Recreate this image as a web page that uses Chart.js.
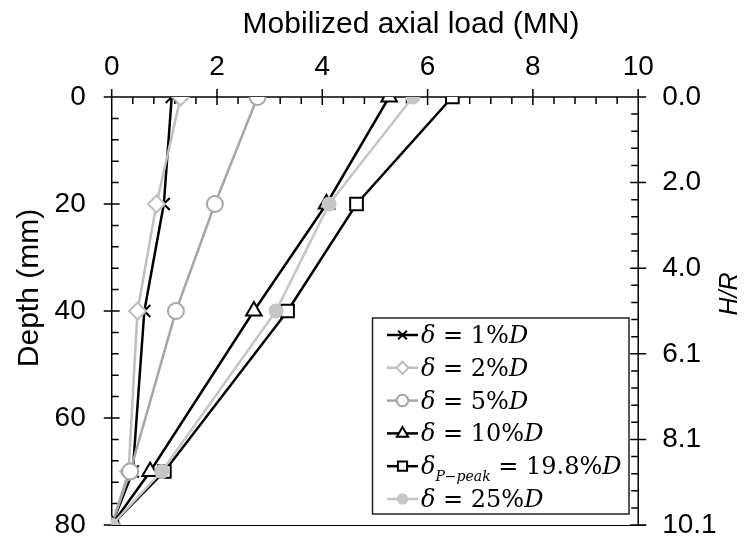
<!DOCTYPE html>
<html>
<head>
<meta charset="utf-8">
<script src="https://cdn.jsdelivr.net/npm/chart.js@4.4.1/dist/chart.umd.min.js"></script>
<style>
  html, body { margin: 0; padding: 0; background: #fff; }
  #wrap { width: 745px; height: 542px; position: relative; }
</style>
</head>
<body>
<div id="wrap"><canvas id="loadChart"></canvas></div>
<script>
// Mobilized axial load (MN) along the pile, one list per displacement level
const depths   = [0, 20, 40, 70, 80];
const load1    = [1.14, 0.99, 0.62, 0.40, 0];
const load2    = [1.31, 0.85, 0.49, 0.32, 0];
const load5    = [2.77, 1.96, 1.22, 0.35, 0];
const load10   = [5.27, 4.08, 2.70, 0.73, 0];
const loadPeak = [6.47, 4.65, 3.34, 1.00, 0];
const load25   = [5.72, 4.13, 3.12, 0.95, 0];

const seriesLabels = ['δ = 1%D', 'δ = 2%D', 'δ = 5%D', 'δ = 10%D', 'δ_{P−peak} = 19.8%D', 'δ = 25%D'];

const loadTicks    = [0, 2, 4, 6, 8, 10];
const depthTicks   = [0, 20, 40, 60, 80];
const hrTickDepths = [0, 16, 32, 48, 64, 80];
const hrTickLabels = ['0.0', '2.0', '4.0', '6.1', '8.1', '10.1'];

const SANS  = "'Liberation Sans', Arial, sans-serif";
const SERIF = "'DejaVu Serif', serif";

const LIGHT = '#bfbfbf';
const MID   = '#a6a6a6';
const DOT   = '#c6c6c6';

// marker look per series: colour, point style, radius, fill
const looks = [
  { color: '#000', style: 'crossRot', r: 8.5, fill: '#000' },
  { color: LIGHT,  style: 'rectRot',  r: 8.5, fill: '#fff' },
  { color: MID,    style: 'circle',   r: 8,   fill: '#fff' },
  { color: '#000', style: 'triangle', r: 9,   fill: '#fff' },
  { color: '#000', style: 'rect',     r: 9,   fill: '#fff' },
  { color: DOT,    style: 'circle',   r: 6.5, fill: DOT },
];

const allLoads = [load1, load2, load5, load10, loadPeak, load25];

const datasets = allLoads.map((loads, i) => ({
  label: seriesLabels[i],
  data: loads.map((v, k) => ({ x: v, y: depths[k] })),
  showLine: true,
  borderColor: looks[i].color,
  borderWidth: 2.5,
  pointStyle: looks[i].style,
  pointRadius: looks[i].r,
  pointBorderWidth: 2,
  pointBorderColor: looks[i].color,
  pointBackgroundColor: looks[i].fill,
  order: allLoads.length - i,
  yAxisID: 'y',
}));

// rich text: letters in italic, the rest upright, _{..} as subscript
function drawRich(ctx, text, x, y, size) {
  const subSize = Math.round(size * 0.6);
  let i = 0;
  let cx = x;
  const put = (ch, sz, dy) => {
    const it = /\p{L}/u.test(ch);
    ctx.font = (it ? 'italic ' : '') + sz + 'px ' + SERIF;
    ctx.fillText(ch, cx, y + dy);
    cx += ctx.measureText(ch).width;
  };
  while (i < text.length) {
    if (text.startsWith('_{', i)) {
      const j = text.indexOf('}', i);
      for (const ch of text.slice(i + 2, j)) put(ch, subSize, size * 0.28);
      i = j + 1;
    } else {
      put(text[i], size, 0);
      i++;
    }
  }
}

const frame = {
  id: 'frame',
  beforeDatasetsDraw(chart) {
    const { ctx, chartArea: a, scales } = chart;
    const sx = scales.x, sy = scales.y, sr = scales.y2;
    ctx.save();
    ctx.strokeStyle = '#000';
    ctx.lineWidth = 1.5;
    ctx.beginPath();
    ctx.moveTo(a.left, a.top); ctx.lineTo(a.right, a.top);
    ctx.moveTo(a.left, a.top); ctx.lineTo(a.left, a.bottom);
    ctx.moveTo(a.right, a.top); ctx.lineTo(a.right, a.bottom);
    // top axis: majors cross, minors point in
    for (let v = 0; v <= 10.001; v += 0.4) {
      const px = sx.getPixelForValue(v);
      const major = loadTicks.some(t => Math.abs(t - v) < 1e-6);
      ctx.moveTo(px, a.top - (major ? 8 : 0));
      ctx.lineTo(px, a.top + (major ? 8 : 7));
    }
    // left axis
    for (let v = 0; v <= 80.001; v += 4) {
      const py = sy.getPixelForValue(v);
      const major = depthTicks.some(t => Math.abs(t - v) < 1e-6);
      ctx.moveTo(a.left - (major ? 8 : 0), py);
      ctx.lineTo(a.left + (major ? 8 : 7), py);
    }
    // right axis
    for (let v = 0; v <= 80.001; v += 3.2) {
      const py = sr.getPixelForValue(v);
      const major = hrTickDepths.some(t => Math.abs(t - v) < 1e-6);
      ctx.moveTo(a.right + (major ? 8 : 0), py);
      ctx.lineTo(a.right - (major ? 8 : 7), py);
    }
    ctx.stroke();
    ctx.lineWidth = 1;
    ctx.beginPath();
    ctx.moveTo(a.left, a.bottom + 0.5);
    ctx.lineTo(a.right + 8, a.bottom + 0.5);
    ctx.stroke();
    ctx.restore();
  },
  afterDraw(chart) {
    const { ctx } = chart;
    ctx.save();
    ctx.fillStyle = '#000';
    // axis titles
    ctx.font = '30px ' + SANS;
    ctx.textAlign = 'center';
    ctx.textBaseline = 'alphabetic';
    ctx.fillText('Mobilized axial load (MN)', 411, 33);
    ctx.save();
    ctx.translate(38, 288);
    ctx.rotate(-Math.PI / 2);
    ctx.fillText('Depth (mm)', 0, 0);
    ctx.restore();
    ctx.save();
    ctx.translate(737, 294);
    ctx.rotate(-Math.PI / 2);
    ctx.font = 'italic 25px ' + SANS;
    ctx.fillText('H/R', 0, 0);
    ctx.restore();

    // legend box
    const bx = 372.5, by = 318, bw = 256.5, bh = 196;
    ctx.fillStyle = '#fff';
    ctx.fillRect(bx, by, bw, bh);
    ctx.strokeStyle = '#222';
    ctx.lineWidth = 1.5;
    ctx.strokeRect(bx, by, bw, bh);
    chart.data.datasets.forEach((ds, i) => {
      const cy = 335 + i * 32.8;
      const lk = looks[i];
      ctx.strokeStyle = lk.color;
      ctx.lineWidth = 2.5;
      ctx.beginPath();
      ctx.moveTo(387, cy); ctx.lineTo(418, cy);
      ctx.stroke();
      ctx.fillStyle = lk.fill;
      ctx.lineWidth = 2;
      Chart.helpers.drawPoint(ctx, { pointStyle: lk.style, radius: lk.r * 0.72, borderWidth: 2, rotation: 0 }, 402.5, cy);
      ctx.fillStyle = '#000';
      ctx.textAlign = 'left';
      drawRich(ctx, ds.label, 421, cy + 8, 24);
    });
    ctx.restore();
  }
};

const tickFont = { family: SANS, size: 28 };

// keep the plot box fixed: no extra room for edge labels
function noEdgePad(s) {
  s.paddingTop = 0; s.paddingBottom = 0;
  s.paddingLeft = 0; s.paddingRight = 0;
}

new Chart(document.getElementById('loadChart'), {
  type: 'scatter',
  data: { datasets },
  options: {
    responsive: true,
    maintainAspectRatio: false,
    animation: false,
    layout: { padding: { top: 0, left: 0, right: 0, bottom: 17 } },
    plugins: { legend: { display: false }, tooltip: { enabled: false } },
    scales: {
      x: {
        type: 'linear', position: 'top', min: 0, max: 10,
        grid: { display: false, drawTicks: false },
        border: { display: false },
        afterBuildTicks: (s) => { s.ticks = loadTicks.map(v => ({ value: v })); },
        afterFit: (s) => { s.height = 97; noEdgePad(s); },
        ticks: { font: tickFont, color: '#000', padding: 13 },
      },
      y: {
        type: 'linear', position: 'left', reverse: true, min: 0, max: 80,
        grid: { display: false, drawTicks: false },
        border: { display: false },
        afterBuildTicks: (s) => { s.ticks = depthTicks.map(v => ({ value: v })); },
        afterFit: (s) => { s.width = 111.7; noEdgePad(s); },
        ticks: { font: tickFont, color: '#000', padding: 26 },
      },
      y2: {
        type: 'linear', position: 'right', reverse: true, min: 0, max: 80,
        grid: { display: false, drawTicks: false },
        border: { display: false },
        afterBuildTicks: (s) => { s.ticks = hrTickDepths.map(v => ({ value: v })); },
        afterFit: (s) => { s.width = 106.8; noEdgePad(s); },
        ticks: { font: tickFont, color: '#000', padding: 24, callback: (v, i) => hrTickLabels[i] },
      },
    },
  },
  plugins: [frame],
});
</script>
</body>
</html>
